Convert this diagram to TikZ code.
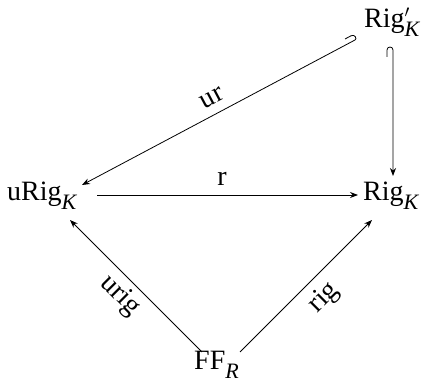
\documentclass[tikz,border=0pt]{standalone}
\usepackage{fontspec}
\setmainfont{Liberation Serif}
\usetikzlibrary{arrows.meta}
\newcommand{\lsub}[1]{\raisebox{-8.5pt}{\fontsize{22}{24}\selectfont\itshape #1}}
\begin{document}
\begin{tikzpicture}[x=1pt,y=-1pt,
  obj/.style={anchor=base west,inner sep=0pt,font=\fontsize{28}{32}\selectfont},
  lbl/.style={inner sep=0pt,font=\fontsize{28}{32}\selectfont},
  arr/.style={-{Stealth[length=8pt,width=6pt]},line width=0.8pt}]
\useasboundingbox (0,0) rectangle (421,387);
\node[obj] (rigp) at (364,28) {Rig\rlap{\raisebox{10pt}{\fontsize{19}{19}\selectfont$\prime$}}\lsub{K}};
\node[obj] (urig) at (7,201) {uRig\lsub{K}};
\node[obj] (rig) at (363,201) {Rig\lsub{K}};
\node[obj] (ff) at (194,370) {FF\lsub{R}};
% hooked arrow Rig' -> uRig
\draw[arr] ([shift={(-19,11)}]rigp.base west) -- ([shift={(-12.8,7.7)}]rigp.base west)
  .. controls ([shift={(-9.3,5.8)}]rigp.base west) and ([shift={(-6.5,11.1)}]rigp.base west)
  .. ([shift={(-9,12)}]rigp.base west) -- ([shift={(75,-16)}]urig.base west);
% hooked arrow Rig' -> Rig
\draw[arr] ([shift={(23,29)}]rigp.base west) -- ([shift={(23,22)}]rigp.base west)
  .. controls ([shift={(23,18)}]rigp.base west) and ([shift={(29,18)}]rigp.base west)
  .. ([shift={(29,22)}]rigp.base west) -- ([shift={(30,-25)}]rig.base west);
\draw[arr] ([shift={(90,-6)}]urig.base west) -- ([shift={(-5,-6)}]rig.base west);
\draw[arr] ([shift={(8,-18)}]ff.base west) -- ([shift={(63,19)}]urig.base west);
\draw[arr] ([shift={(46,-18)}]ff.base west) -- ([shift={(9,19)}]rig.base west);
\node[lbl] (lur) at (212,98) [rotate=28] {ur};
\node[lbl] (lr) at (222,179) {r};
\node[lbl] (lurig) at (120,296) [rotate=-45] {urig};
\node[lbl] (lrig) at (324,298) [rotate=45] {rig};
\end{tikzpicture}
\end{document}
